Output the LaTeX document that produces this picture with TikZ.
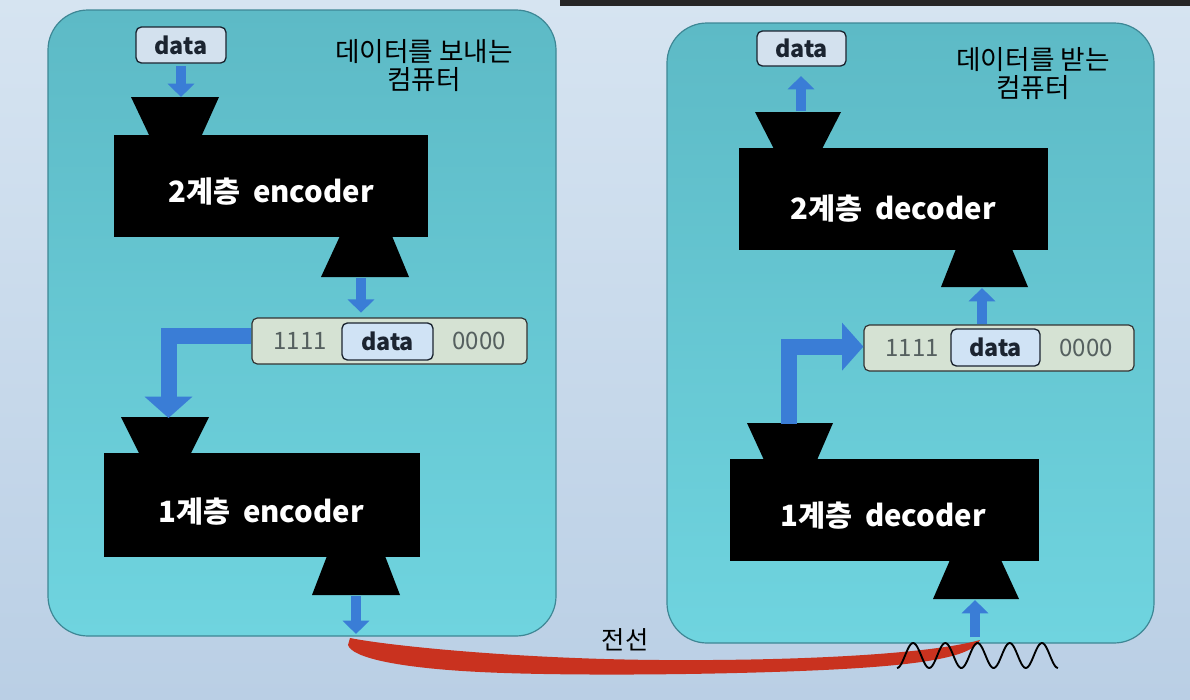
\documentclass[tikz,border=0pt]{standalone}
\usepackage{fontspec}
\setmainfont{Noto Sans CJK KR}
\usetikzlibrary{arrows.meta}
\definecolor{bgtop}{HTML}{D6E4F1}
\definecolor{bgbot}{HTML}{BACFE5}
\definecolor{paneltop}{HTML}{5DBAC6}
\definecolor{panelbot}{HTML}{6FD4DF}
\definecolor{panelline}{HTML}{3E8795}
\definecolor{arrowblue}{HTML}{3A7DD6}
\definecolor{framefill}{HTML}{D5E2D3}
\definecolor{innerfill}{HTML}{D0E3F5}
\definecolor{datafill}{HTML}{D3E1EE}
\definecolor{navy}{HTML}{1B2430}
\definecolor{bits}{HTML}{55605F}
\definecolor{cable}{HTML}{C9321F}
\begin{document}
\begin{tikzpicture}[x=0.75pt,y=-0.75pt,
  panelbox/.style={draw=panelline, line width=0.9pt, rounded corners=30pt, top color=paneltop, bottom color=panelbot, inner sep=0pt},
  blackbox/.style={fill=black, inner sep=0pt},
  blacktext/.style={text=white, inner sep=0pt, font=\bfseries\fontsize{22}{25}\selectfont},
  funnel/.style={fill=black},
  databox/.style={draw=navy, line width=1pt, fill=datafill, rounded corners=4pt, inner sep=0pt, text=navy, font=\bfseries\fontsize{17.5}{20}\selectfont},
  framebox/.style={draw=black!80, line width=0.9pt, fill=framefill, rounded corners=4pt, inner sep=0pt},
  innerbox/.style={databox, fill=innerfill},
  bitstext/.style={text=bits, font=\fontsize{18}{21}\selectfont},
  caption/.style={align=center, font=\fontsize{20}{21}\selectfont, text=black},
  flow/.style={draw=arrowblue, line width=7.5pt, -{Triangle[width=19.5pt,length=10pt]}},
  bigflow/.style={draw=arrowblue, line width=12pt, line join=miter, -{Triangle[width=35pt,length=16pt]}},
  wave/.style={draw=black, line width=1.4pt},
  wire/.style={fill=cable}
]
\useasboundingbox (0,0) rectangle (1190,700);
\fill[top color=bgtop, bottom color=bgbot] (0,0) rectangle (1190,700);
\fill[black!85] (560,0) rectangle (1190,6);

% panels
\node[panelbox, minimum width={508*0.75pt}, minimum height={626*0.75pt}] (lpanel) at (302,323) {};
\node[panelbox, minimum width={487*0.75pt}, minimum height={620*0.75pt}] (rpanel) at (910.5,333) {};

% ---------- left: sending computer ----------
\node[caption] (lcap) at (424,66) {데이터를 보내는\\컴퓨터};
\node[databox, minimum width={90*0.75pt}, minimum height={36*0.75pt}] (ldata) at (181,45) {data};

\fill[funnel] (131,97) -- (219,97) -- (201,137) -- (150,137) -- cycle;
\node[blackbox, minimum width={314*0.75pt}, minimum height={102*0.75pt}] (enc2) at (271,186) {};
\node[blacktext] (enc2t) at (271,192) {2계층\hspace{0.45em}encoder};
\fill[funnel] (340,236) -- (392,236) -- (409,277) -- (321,277) -- cycle;
\coordinate (e2in) at (181,97);
\coordinate (e2out) at (361,278);

\node[framebox, minimum width={275*0.75pt}, minimum height={46*0.75pt}] (lframe) at (389.5,341) {};
\node[innerbox, minimum width={91*0.75pt}, minimum height={37*0.75pt}] (linner) at (387.5,341.5) {data};
\node[bitstext] (l1111) at (300,341) {1111};
\node[bitstext] (l0000) at (479,341) {0000};

\fill[funnel] (121,417) -- (209,417) -- (190,455) -- (140,455) -- cycle;
\node[blackbox, minimum width={316*0.75pt}, minimum height={104*0.75pt}] (enc1) at (262,505) {};
\node[blacktext] (enc1t) at (261,512) {1계층\hspace{0.45em}encoder};
\fill[funnel] (327,556) -- (385,556) -- (400,595) -- (312,595) -- cycle;
\coordinate (e1in) at (168.5,418);
\coordinate (e1out) at (356,596);
\coordinate (lwire) at (356,634);

\draw[flow, shorten <=2pt] (ldata.south) -- (e2in);
\draw[flow, shorten >=3.5pt] (e2out) -- (e2out |- lframe.north);
\draw[bigflow] ([yshift=4pt]lframe.west) -| (e1in);
\draw[flow] (e1out) -- (lwire);

% ---------- right: receiving computer ----------
\node[caption] (rcap) at (1033,74) {데이터를 받는\\컴퓨터};
\node[databox, minimum width={89*0.75pt}, minimum height={35*0.75pt}] (rdata) at (801.5,48.5) {data};

\fill[funnel] (755,112) -- (841,112) -- (822,149) -- (774,149) -- cycle;
\node[blackbox, minimum width={309*0.75pt}, minimum height={102*0.75pt}] (dec2) at (893.5,199) {};
\node[blacktext] (dec2t) at (893,209) {2계층\hspace{0.45em}decoder};
\fill[funnel] (956,249) -- (1012,249) -- (1028,287) -- (941,287) -- cycle;
\coordinate (d2out) at (801,111);
\coordinate (d2in) at (982,288);

\node[framebox, minimum width={270*0.75pt}, minimum height={46*0.75pt}] (rframe) at (999,348) {};
\node[innerbox, minimum width={89*0.75pt}, minimum height={37*0.75pt}] (rinner) at (995.5,347.5) {data};
\node[bitstext] (r1111) at (912,348) {1111};
\node[bitstext] (r0000) at (1086,348) {0000};

\fill[funnel] (747,423) -- (833,423) -- (817,460) -- (764,460) -- cycle;
\node[blackbox, minimum width={309*0.75pt}, minimum height={102*0.75pt}] (dec1) at (884.5,510) {};
\node[blacktext] (dec1t) at (883,516) {1계층\hspace{0.45em}decoder};
\fill[funnel] (950,560) -- (1001,560) -- (1019,599) -- (933,599) -- cycle;
\coordinate (d1out) at (789,424);
\coordinate (d1in) at (975,600);
\coordinate (rwire) at (975,637);

\draw[flow, shorten >=7pt] (d2out) -- (d2out |- rdata.south);
\draw[flow] (d2in |- rframe.north) -- (d2in);
\draw[bigflow] (d1out) |- ([yshift=1pt]rframe.west);
\draw[flow] (rwire) -- (d1in);

% ---------- wire ----------
\fill[wire] (350,638) .. controls (390,646) and (520,659) .. (660,660)
  .. controls (800,661) and (930,654) .. (980,640)
  .. controls (972,656) and (930,666) .. (800,671)
  .. controls (700,675) and (560,676) .. (480,672)
  .. controls (400,668) and (352,658) .. (348,645) -- cycle;
\draw[wave] plot[domain=0:5, samples=120, smooth] ({897+\x*32.2}, {655.5+12.5*cos(360*\x)});
\node[font=\fontsize{19}{21}\selectfont] (wirelabel) at (625,640) {전선};
\end{tikzpicture}
\end{document}
